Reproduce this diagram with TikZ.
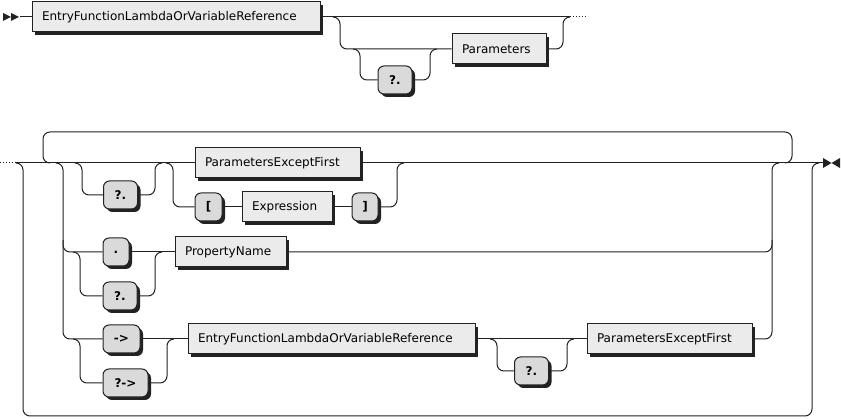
\documentclass[tikz,border=0pt]{standalone}
\usepackage{fontspec}
\setmainfont{DejaVu Sans}
\usetikzlibrary{shadows}
\definecolor{ntfill}{HTML}{EBEBEB}
\definecolor{tmfill}{HTML}{DADADA}
\definecolor{ink}{HTML}{222222}
\begin{document}
\begin{tikzpicture}[x=1pt,y=-1pt,line width=1pt,draw=ink,
  shad/.style={drop shadow={shadow xshift=3pt,shadow yshift=-3pt,opacity=1,fill=ink}},
  nt/.style={draw=ink,fill=ntfill,minimum height=30pt,inner sep=0pt,shad,align=left,
    font=\fontsize{12}{14}\selectfont},
  tm/.style={draw=ink,fill=tmfill,rounded corners=6pt,minimum height=28pt,inner sep=0pt,shad,
    font=\fontsize{12}{14}\selectfont\bfseries},
  rr/.style={rounded corners=7pt},
  tipfill/.style={fill=ink}
]
\useasboundingbox (0,0) rectangle (841,419);

% ---------- top row ----------
\node[nt,minimum width=288pt,text width=268pt] (b1) at (176,17) {EntryFunctionLambdaOrVariableReference};
\node[nt,minimum width=94pt,text width=74pt] (par) at (499,49) {Parameters};
\node[tm,minimum width=34pt] (q1) at (395,80) {?.};

\coordinate (s0) at (20,17);
\coordinate (t1) at (570,17);
\coordinate (t2) at (588,17);
\fill[tipfill] (3,13) -- (11,17) -- (3,21) -- cycle;
\fill[tipfill] (11,13) -- (19,17) -- (11,21) -- cycle;
\draw (s0) -- (b1.west);
\draw (b1.east) -- (t1);
\draw[dotted] (t1) -- (t2);
\draw[rr] (333,17) -- (340,17) -- (340,49) -- (par.west);
\draw[rr] (353,49) -- (360,49) -- (360,80) -- (q1.west);
\draw[rr] (q1.east) -- (430,80) -- (430,49) -- (437,49);
\draw[rr] (par.east) -- (563,49) -- (563,17) -- (t1);

% ---------- second row ----------
\node[nt,minimum width=165pt,text width=145pt] (pef1) at (277.5,163) {ParametersExceptFirst};
\node[tm,minimum width=34pt] (q2) at (120.5,195) {?.};
\node[tm,minimum width=27pt] (lb) at (208.5,207) {[};
\node[nt,minimum width=90pt,text width=70pt] (expr) at (287,207) {Expression};
\node[tm,minimum width=26pt] (rb) at (365,207) {]};
\node[tm,minimum width=26pt] (dot) at (116,252) {.};
\node[tm,minimum width=34pt] (q3) at (120,296) {?.};
\node[nt,minimum width=111pt,text width=91pt] (prop) at (230.5,252) {PropertyName};
\node[tm,minimum width=37pt] (arr) at (121.5,339) {->};
\node[tm,minimum width=45pt] (qarr) at (125.5,383) {?->};
\node[nt,minimum width=287pt,text width=267pt] (e2) at (331.5,339) {EntryFunctionLambdaOrVariableReference};
\node[tm,minimum width=34pt] (q4) at (531.5,371) {?.};
\node[nt,minimum width=165pt,text width=145pt] (pef3) at (669.5,339) {ParametersExceptFirst};

\coordinate (r0) at (0,163);
\coordinate (r1) at (15,163);
\coordinate (ee) at (823,163);
\draw[dotted] (r0) -- (r1);
\draw (r1) -- (pef1.west);
\draw (pef1.east) -- (ee);
\fill[tipfill] (823,158) -- (831.5,163) -- (823,168) -- cycle;
\fill[tipfill] (840,158) -- (831.5,163) -- (840,168) -- cycle;

% skip path and loop
\draw[rr] (16,163) -- (23,163) -- (23,416) -- (812,416) -- (812,163) -- (819,163);
\draw[rr] (785,163) -- (792,163) -- (792,132) -- (43,132) -- (43,163) -- (50,163);

% choice left / right
\draw[rr] (56,163) -- (63,163) -- (63,339) -- (arr.west);
\draw[rr] (63,240) -- (63,252) -- (dot.west);
\draw[rr] (pef3.east) -- (772,339) -- (772,163) -- (779,163);
\draw[rr] (prop.east) -- (772,252) -- (772,240);

% alt 1
\draw[rr] (75,163) -- (82,163) -- (82,195) -- (q2.west);
\draw[rr] (q2.east) -- (155,195) -- (155,163) -- (162,163);
\draw[rr] (166,163) -- (173,163) -- (173,207) -- (lb.west);
\draw (lb) -- (expr);
\draw (expr) -- (rb);
\draw[rr] (rb.east) -- (397,207) -- (397,163) -- (404,163);

% alt 2
\draw[rr] (73,252) -- (80,252) -- (80,296) -- (q3.west);
\draw[rr] (q3.east) -- (155,296) -- (155,252) -- (162,252);
\draw (dot) -- (prop);

% alt 3
\draw[rr] (73,339) -- (80,339) -- (80,383) -- (qarr.west);
\draw[rr] (qarr.east) -- (167,383) -- (167,339) -- (174,339);
\draw (arr) -- (e2);
\draw[rr] (490,339) -- (497,339) -- (497,371) -- (q4.west);
\draw[rr] (q4.east) -- (567,371) -- (567,339) -- (574,339);
\draw (e2) -- (pef3);
\end{tikzpicture}
\end{document}
